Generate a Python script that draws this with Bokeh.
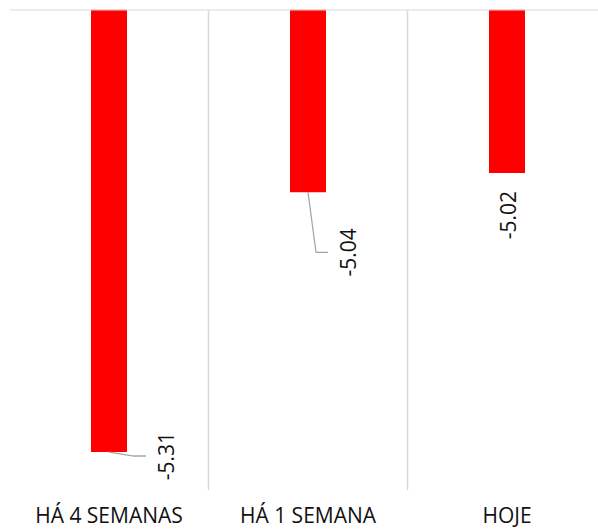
import math
from bokeh.plotting import figure
from bokeh.models import Range1d, FixedTicker, Span, ColumnDataSource
from bokeh.embed import file_html
from bokeh.resources import INLINE
from bokeh.core.properties import value

# ---- data ----
categories = ["HÁ 4 SEMANAS", "HÁ 1 SEMANA", "HOJE"]
values = [-5.31, -5.04, -5.02]
value_labels = ["-5.31", "-5.04", "-5.02"]
y_axis_top = -4.85
y_axis_bottom = -5.35

# ---- layout (pixels) ----
W, H = 598, 530
LEFT, TOP = 9, 9
FRAME_W = W - LEFT
FRAME_H = 481
CAT_PX = 199
X_START = -0.5
x_end = X_START + FRAME_W / CAT_PX
px_per_y = FRAME_H / (y_axis_top - y_axis_bottom)

label_dx = [57, 40, 1]
label_dy = [4, 60, 42]
leader_pts = [[(0, 0), (25, 4), (37, 4)], [(0, 0), (8, 60), (20, 60)], None]

xs = list(range(len(categories)))

p = figure(frame_width=FRAME_W, frame_height=FRAME_H,
           x_range=Range1d(X_START, x_end),
           y_range=Range1d(y_axis_bottom, y_axis_top),
           output_backend="svg", toolbar_location=None,
           min_border_left=LEFT, min_border_right=0,
           min_border_top=TOP, min_border_bottom=H - TOP - FRAME_H)
p.outline_line_color = None
p.background_fill_color = "white"
p.border_fill_color = "white"
p.yaxis.visible = False
p.ygrid.visible = False
p.xgrid.ticker = FixedTicker(ticks=[X_START + i for i in range(len(categories) + 1)])
p.xgrid.grid_line_color = "#d9d9d9"
p.xgrid.grid_line_width = 1.5

ax = p.xaxis[0]
ax.ticker = FixedTicker(ticks=xs)
ax.major_label_overrides = {i: c for i, c in zip(xs, categories)}
ax.axis_line_color = None
ax.major_tick_line_color = None
ax.minor_tick_line_color = None
ax.major_tick_out = 0
ax.major_tick_in = 0
ax.minor_tick_out = 0
ax.minor_tick_in = 0
ax.major_label_text_font = "Open Sans"
ax.major_label_text_font_size = "21px"
ax.major_label_text_color = "#111111"
ax.major_label_text_line_height = 0.8
ax.major_label_standoff = 10

p.add_layout(Span(location=y_axis_top, dimension="width",
                  line_color="#d9d9d9", line_width=2))

src = ColumnDataSource(dict(x=xs, v=values, top=[y_axis_top] * len(values)))
p.vbar(x="x", top="top", bottom="v", width=36 / CAT_PX, source=src,
       fill_color="#ff0000", line_color=None)

lx = [x + dx / CAT_PX for x, dx in zip(xs, label_dx)]
ly = [v - dy / px_per_y for v, dy in zip(values, label_dy)]
p.text(x=lx, y=ly, text=value_labels, angle=math.pi / 2,
       text_align="center", text_baseline="middle",
       text_font=value("Open Sans"), text_font_size="21px",
       text_color="#111111")

mxs, mys = [], []
for x, v, pts in zip(xs, values, leader_pts):
    if pts is None:
        continue
    mxs.append([x + dx / CAT_PX for dx, dy in pts])
    mys.append([v - dy / px_per_y for dx, dy in pts])
p.multi_line(xs=mxs, ys=mys, line_color="#a6a6a6", line_width=1.3)

open("out.html", "w").write(file_html(p, INLINE))
